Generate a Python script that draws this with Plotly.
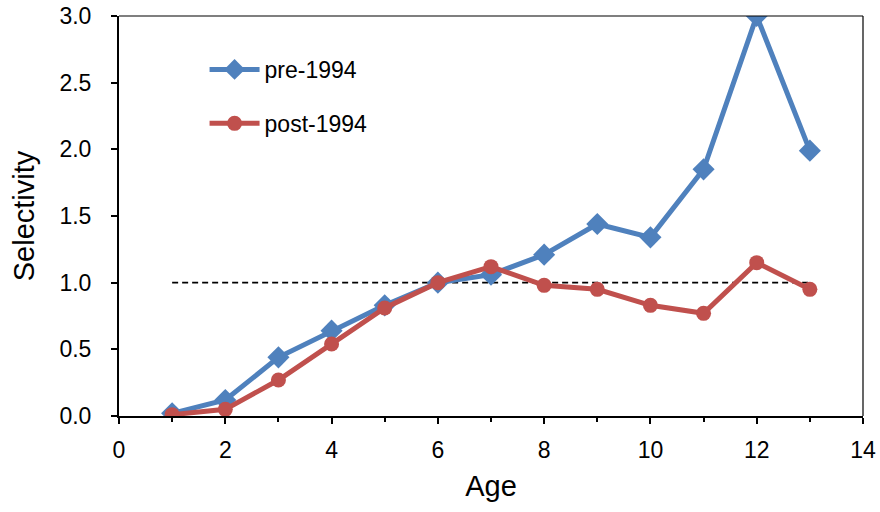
import plotly.graph_objects as go

# Selectivity at age, before and after 1994
ages = [1, 2, 3, 4, 5, 6, 7, 8, 9, 10, 11, 12, 13]
pre_1994 = [0.02, 0.12, 0.44, 0.64, 0.83, 1.0, 1.06, 1.21, 1.44, 1.34, 1.85, 3.0, 1.99]
post_1994 = [0.01, 0.05, 0.27, 0.54, 0.81, 1.0, 1.12, 0.98, 0.95, 0.83, 0.77, 1.15, 0.95]

# Reference line at selectivity = 1
ref_x = [1, 13]
ref_y = [1.0, 1.0]

BLUE = "#4F81BD"
RED = "#C0504D"
FONT = "Liberation Sans, Arial, sans-serif"

fig = go.Figure()

fig.add_trace(go.Scatter(
    x=ref_x, y=ref_y, mode="lines",
    line=dict(color="black", width=1.8, dash="6px,4px"),
    showlegend=False, hoverinfo="skip",
))
fig.add_trace(go.Scatter(
    x=ages, y=pre_1994, mode="lines+markers", name="pre-1994",
    legendgroup="pre",
    line=dict(color=BLUE, width=5),
    marker=dict(symbol="diamond", size=17, color=BLUE),
))
fig.add_trace(go.Scatter(
    x=ages, y=post_1994, mode="lines+markers", name="post-1994",
    legendgroup="post",
    line=dict(color=RED, width=5),
    marker=dict(symbol="circle", size=15, color=RED),
))

axis_common = dict(
    showgrid=False, zeroline=False, automargin=False,
    showline=True, linecolor="black", linewidth=2,
    ticks="outside", ticklen=6, tickwidth=1.5, tickcolor="black",
    tickfont=dict(family=FONT, size=23, color="black"),
)

fig.update_xaxes(
    range=[0, 14], dtick=2, tick0=0, ticklabelstandoff=6,
    minor=dict(ticks="outside", dtick=1, ticklen=4, tickwidth=1.5, tickcolor="black"),
    title=dict(text="Age", font=dict(family=FONT, size=29, color="black"), standoff=14),
    **axis_common,
)
fig.update_yaxes(
    range=[0, 3], dtick=0.5, tick0=0, tickformat=".1f", ticklabelstandoff=15,
    title=dict(text="Selectivity", font=dict(family=FONT, size=29, color="black"), standoff=16),
    **axis_common,
)

# Thin top and right frame edges
fig.add_shape(type="line", xref="paper", yref="paper", x0=0, x1=1, y0=1, y1=1,
              line=dict(color="black", width=1.2))
fig.add_shape(type="line", xref="paper", yref="paper", x0=1, x1=1, y0=0, y1=1,
              line=dict(color="black", width=1.2))

fig.update_layout(
    width=880, height=512,
    margin=dict(l=119, r=17, t=16, b=96),
    paper_bgcolor="white", plot_bgcolor="white",
    font=dict(family=FONT, color="black"),
    legend=dict(
        x=0.115, y=0.92, xanchor="left", yanchor="top",
        traceorder="grouped", tracegroupgap=21,
        itemwidth=50,
        font=dict(family=FONT, size=23, color="black"),
        bgcolor="rgba(0,0,0,0)",
    ),
)

fig.write_html("out.html")
